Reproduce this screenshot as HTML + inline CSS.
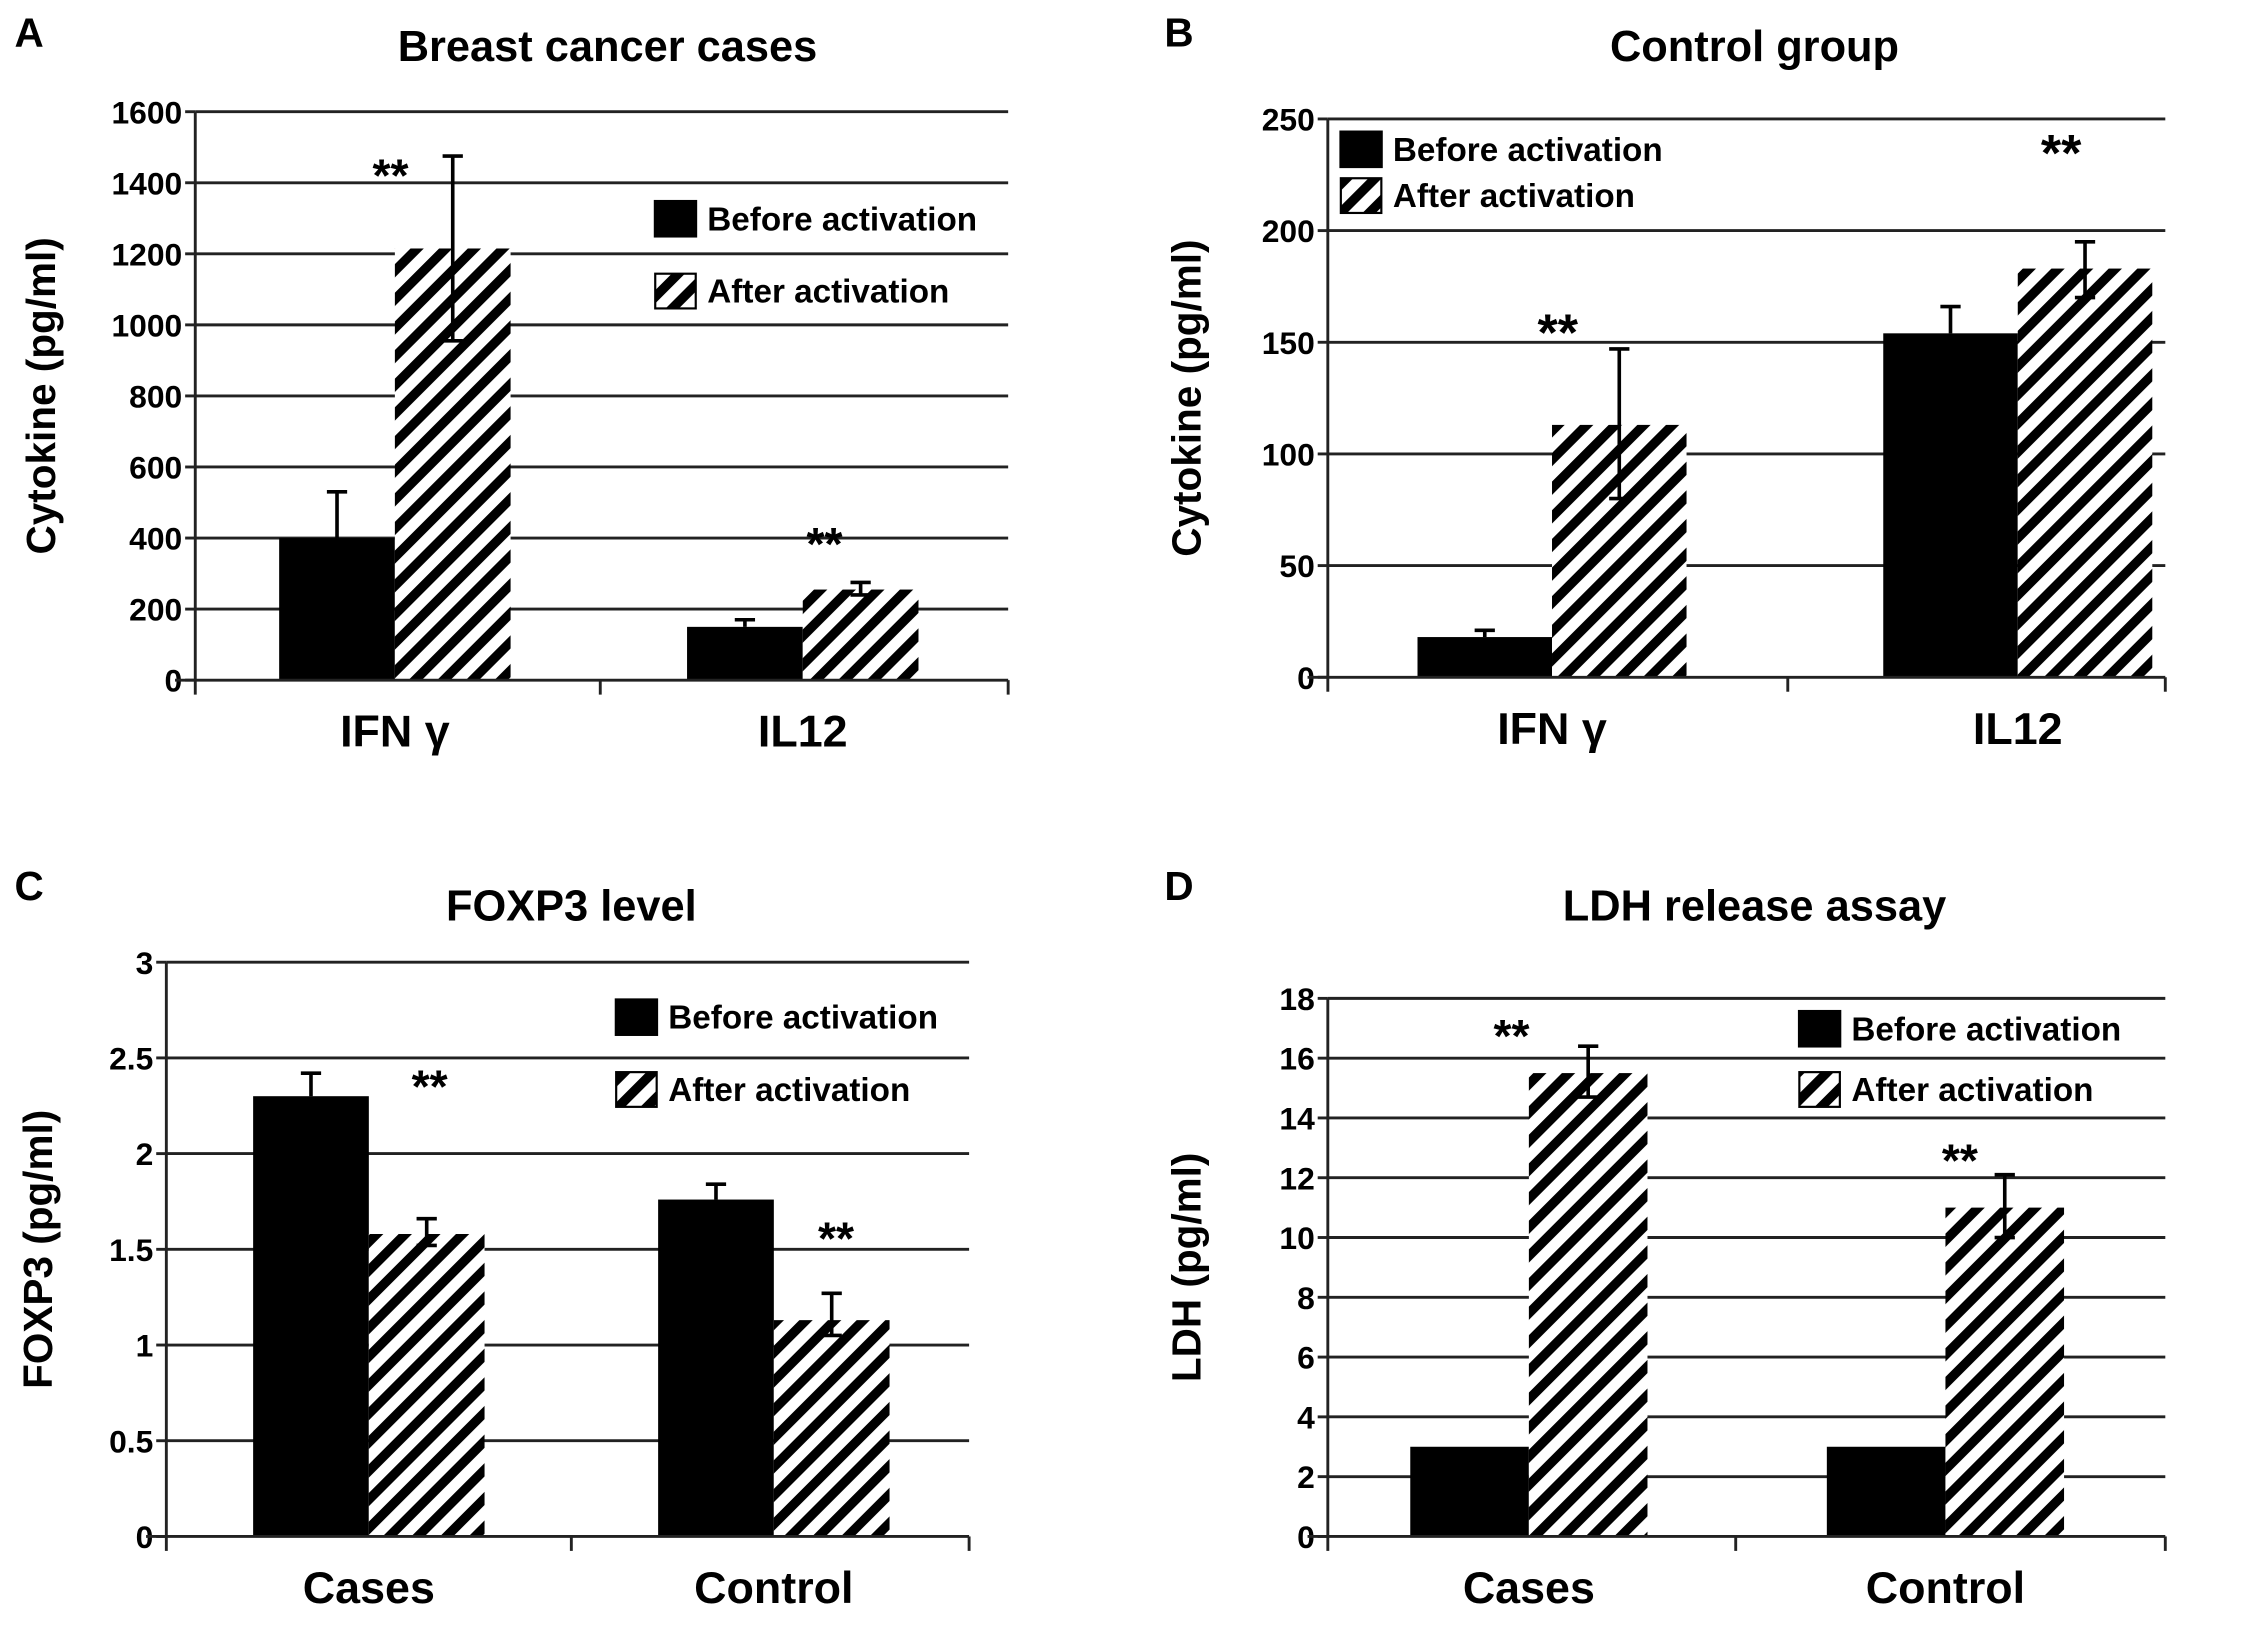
<!DOCTYPE html>
<html><head><meta charset="utf-8"><style>
html,body{margin:0;padding:0;background:#fff;}
svg{display:block;font-family:"Liberation Sans",Arial,sans-serif;font-weight:bold;}
</style></head><body>
<svg id="fig" width="2268" height="1625" viewBox="0 0 1568 1123" xmlns="http://www.w3.org/2000/svg">
<defs>
<pattern id="hatch" patternUnits="userSpaceOnUse" width="14" height="14" patternTransform="rotate(45)">
<rect width="14" height="14" fill="#fff"/><rect x="0" y="0" width="6.5" height="14" fill="#000"/>
</pattern>
</defs>
</svg>
<script>
// Panel A
const catsA=["IFN γ","IL12"];
const beforeA=[400,150];
const beforeErrA=[530,170];
const afterA=[1215,255];
const afterErrHiA=[1475,275];
const afterErrLoA=[955,240];
const ticksA=[0,200,400,600,800,1000,1200,1400,1600];
// Panel B
const catsB=["IFN γ","IL12"];
const beforeB=[18,154];
const beforeErrB=[21,166];
const afterB=[113,183];
const afterErrHiB=[147,195];
const afterErrLoB=[80,170];
const ticksB=[0,50,100,150,200,250];
// Panel C
const catsC=["Cases","Control"];
const beforeC=[2.3,1.76];
const beforeErrC=[2.42,1.84];
const afterC=[1.58,1.13];
const afterErrHiC=[1.66,1.27];
const afterErrLoC=[1.52,1.05];
const ticksC=[0,0.5,1,1.5,2,2.5,3];
const tickLabelsC=["0","0.5","1","1.5","2","2.5","3"];
// Panel D
const catsD=["Cases","Control"];
const beforeD=[3,3];
const beforeErrD=[3,3];
const afterD=[15.5,11];
const afterErrHiD=[16.4,12.1];
const afterErrLoD=[14.7,10];
const ticksD=[0,2,4,6,8,10,12,14,16,18];

const NS="http://www.w3.org/2000/svg";
const svg=document.getElementById('fig');
function el(tag,attrs,parent,text){const e=document.createElementNS(NS,tag);for(const k in attrs)e.setAttribute(k,attrs[k]);if(text!==undefined)e.textContent=text;(parent||svg).appendChild(e);return e;}

function panel(cfg){
  const g=el('g',{});
  
  
  const max=cfg.ticks[cfg.ticks.length-1];
  const y=v=>cfg.y0-(v/max)*(cfg.y0-cfg.yTop);
  const L=el('text',{x:cfg.letterX,y:cfg.letterY,'font-size':28},g,cfg.letter);
  
  const T=el('text',{x:cfg.titleX,y:cfg.titleY,'font-size':30,'text-anchor':'middle'},g,cfg.title);
  
  cfg.ticks.forEach((t,i)=>{
    const yy=y(t);
    if(t>0){const gl=el('line',{x1:cfg.ax,x2:cfg.xEnd,y1:yy,y2:yy,stroke:'#222','stroke-width':2},g);
      }
    el('line',{x1:cfg.ax-7,x2:cfg.ax,y1:yy,y2:yy,stroke:'#222','stroke-width':2},g);
    const tl=el('text',{x:cfg.ax-9,y:yy+8,'font-size':22,'text-anchor':'end'},g,cfg.tickLabels?cfg.tickLabels[i]:String(t));
    
  });
  cfg.cats.forEach((c,i)=>{
    const cx=cfg.cx[i];
    const hb=y(0)-y(cfg.before[i]);
    const b=el('rect',{x:cx-cfg.bw,y:y(cfg.before[i]),width:cfg.bw,height:hb,fill:'#000'},g);
    
    const a=el('rect',{x:cx,y:y(cfg.after[i]),width:cfg.bw,height:y(0)-y(cfg.after[i]),fill:'url(#hatch)'},g);
    
    const ex1=cx-cfg.bw/2;
    if(cfg.beforeErr[i]>cfg.before[i]+0.001){
      const e1=el('path',{d:`M${ex1},${y(cfg.before[i])} V${y(cfg.beforeErr[i])} M${ex1-7},${y(cfg.beforeErr[i])} H${ex1+7}`,stroke:'#000','stroke-width':2.5,fill:'none'},g);
      
    }
    const ex2=cx+cfg.bw/2;
    const e2=el('path',{d:`M${ex2},${y(cfg.errLo[i])} V${y(cfg.errHi[i])} M${ex2-7},${y(cfg.errHi[i])} H${ex2+7} M${ex2-7},${y(cfg.errLo[i])} H${ex2+7}`,stroke:'#000','stroke-width':2.5,fill:'none'},g);
    
    const cl=el('text',{x:cx,y:cfg.y0+46,'font-size':31,'text-anchor':'middle'},g,c);
    
    const st=el('text',{x:cfg.stars[i][0],y:cfg.stars[i][1],'font-size':cfg.starSize,'text-anchor':'middle'},g,'**');
    
  });
  el('line',{x1:cfg.ax,x2:cfg.ax,y1:cfg.yTop,y2:cfg.y0,stroke:'#222','stroke-width':2},g);
  el('line',{x1:cfg.ax-14,x2:cfg.xEnd,y1:cfg.y0,y2:cfg.y0,stroke:'#222','stroke-width':2},g);
  [cfg.ax,cfg.div,cfg.xEnd].forEach(x=>el('line',{x1:x,x2:x,y1:cfg.y0,y2:cfg.y0+10,stroke:'#222','stroke-width':2},g));
  const yl=el('text',{x:0,y:0,'font-size':28,'text-anchor':'middle',transform:`translate(${cfg.ylx},${(cfg.y0+cfg.yTop)/2}) rotate(-90)`},g,cfg.ylabel);
  
  const lg=el('g',{},g);
  
  el('rect',{x:cfg.lx,y:cfg.ly,width:30,height:26,fill:'#000'},lg);
  el('text',{x:cfg.lx+37,y:cfg.ly+21,'font-size':23},lg,'Before activation');
  el('rect',{x:cfg.lx+1,y:cfg.ly+cfg.lgap+1,width:28,height:24,fill:'url(#hatch)',stroke:'#000','stroke-width':1.5},lg);
  el('text',{x:cfg.lx+37,y:cfg.ly+cfg.lgap+21,'font-size':23},lg,'After activation');
}

panel({id:'a',letter:'A',letterX:10,letterY:32,title:'Breast cancer cases',titleX:420,titleY:42,
 ticks:ticksA,ax:135,xEnd:697,y0:470,yTop:77,div:415,cats:catsA,cx:[273,555],bw:80,
 before:beforeA,beforeErr:beforeErrA,after:afterA,errHi:afterErrHiA,errLo:afterErrLoA,
 stars:[[270,132],[570,387]],starSize:32,ylx:38,ylabel:'Cytokine (pg/ml)',lx:452,ly:138,lgap:50});
panel({id:'b',letter:'B',letterX:805,letterY:32,title:'Control group',titleX:1213,titleY:42,
 ticks:ticksB,ax:918,xEnd:1497,y0:468,yTop:82,div:1236,cats:catsB,cx:[1073,1395],bw:93,
 before:beforeB,beforeErr:beforeErrB,after:afterB,errHi:afterErrHiB,errLo:afterErrLoB,
 stars:[[1077,242],[1425,118]],starSize:36,ylx:830,ylabel:'Cytokine (pg/ml)',lx:926,ly:90,lgap:32});
panel({id:'c',letter:'C',letterX:10,letterY:622,title:'FOXP3 level',titleX:395,titleY:636,
 ticks:ticksC,tickLabels:tickLabelsC,ax:115,xEnd:670,y0:1062,yTop:665,div:395,cats:catsC,cx:[255,535],bw:80,
 before:beforeC,beforeErr:beforeErrC,after:afterC,errHi:afterErrHiC,errLo:afterErrLoC,
 stars:[[297,762],[578,867]],starSize:32,ylx:36,ylabel:'FOXP3 (pg/ml)',lx:425,ly:690,lgap:50});
panel({id:'d',letter:'D',letterX:805,letterY:622,title:'LDH release assay',titleX:1213,titleY:636,
 ticks:ticksD,ax:918,xEnd:1497,y0:1062,yTop:690,div:1200,cats:catsD,cx:[1057,1345],bw:82,
 before:beforeD,beforeErr:beforeErrD,after:afterD,errHi:afterErrHiD,errLo:afterErrLoD,
 stars:[[1045,727],[1355,813]],starSize:32,ylx:830,ylabel:'LDH (pg/ml)',lx:1243,ly:698,lgap:42});
</script>
</body></html>
